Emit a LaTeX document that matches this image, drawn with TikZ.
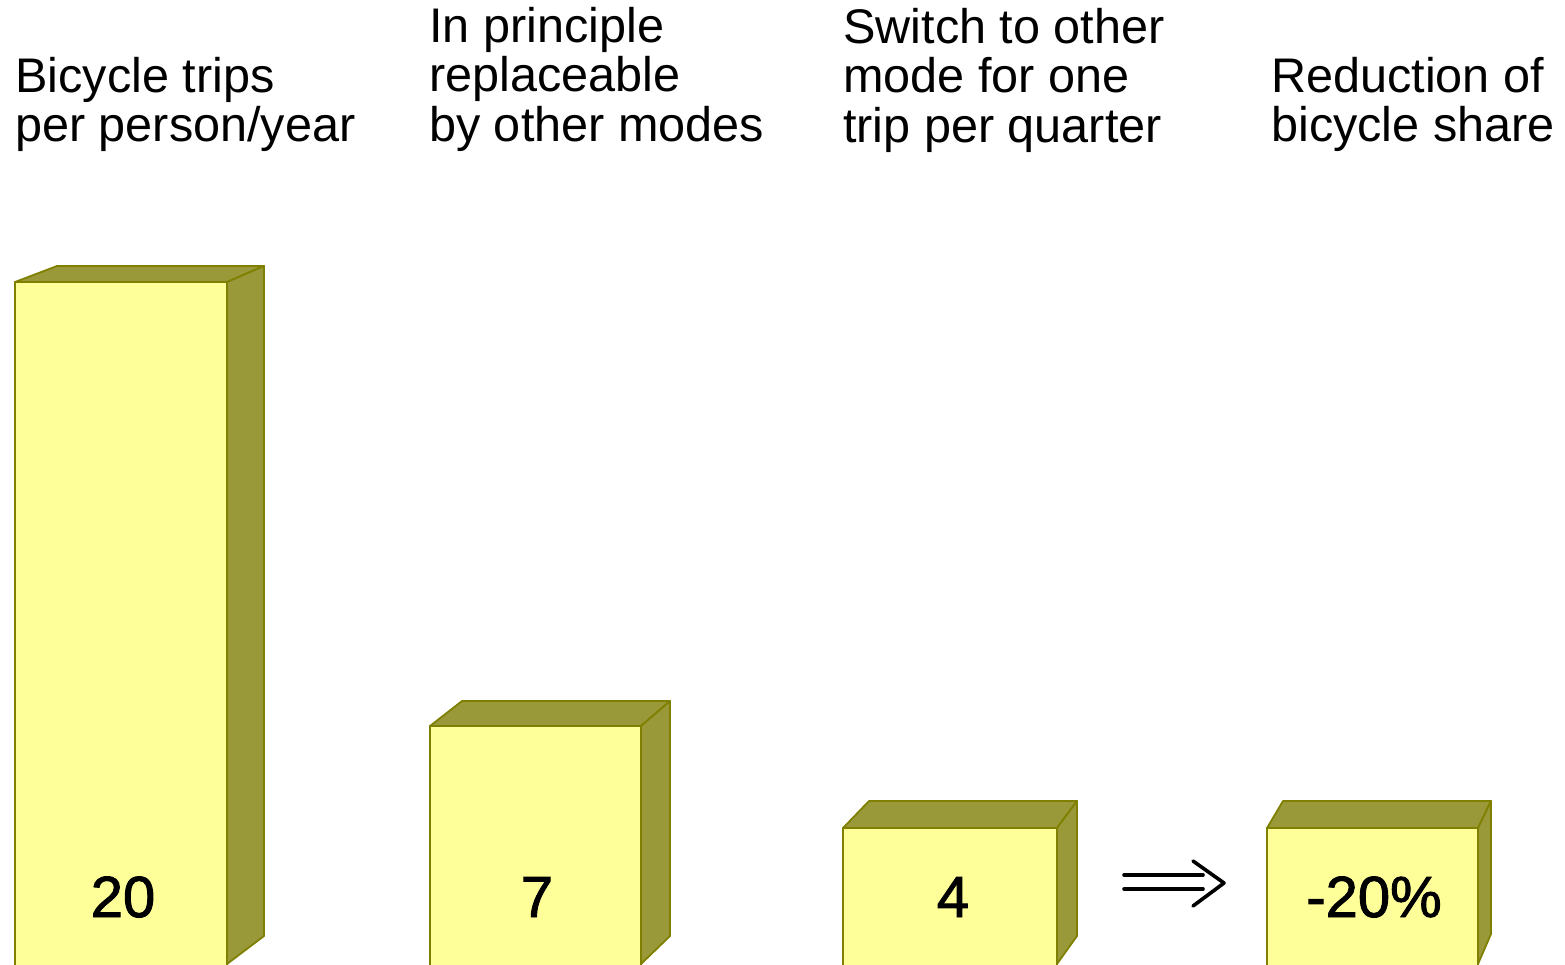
\documentclass[tikz,border=0pt]{standalone}
\usepackage{fontspec}
\setmainfont{Liberation Sans}
\newfontfamily\valuefont[FakeBold=1.6]{Liberation Sans}
\definecolor{barfront}{RGB}{255,255,153}
\definecolor{barside}{RGB}{153,153,58}
\definecolor{baredge}{RGB}{128,128,0}
\tikzset{
  frontface/.style={fill=barfront,draw=baredge,line width=1.8pt,line join=round},
  sideface/.style={fill=barside,draw=baredge,line width=1.8pt,line join=round},
  heading/.style={anchor=base west,inner sep=0pt,font=\fontsize{48.6}{48}\selectfont},
  value/.style={anchor=base,inner sep=0pt,font=\valuefont\fontsize{58}{60}\selectfont},
  arrowline/.style={line width=3.6pt,line cap=round,line join=round}
}
\begin{document}
\begin{tikzpicture}[x=1pt,y=-1pt]
\useasboundingbox (0,0) rectangle (1565,964);
\clip (0,0) rectangle (1565,964);
% headings
\node[heading] (h1) at (15,92) {\begin{tabular}[t]{@{}l@{}}Bicycle trips\\per person/year\end{tabular}};
\node[heading] (h2) at (429,42) {\begin{tabular}[t]{@{}l@{}}In principle\\replaceable\\by other modes\end{tabular}};
\node[heading] (h3) at (843,43) {\begin{tabular}[t]{@{}l@{}}Switch to other\\mode for one\\trip per quarter\end{tabular}};
\node[heading] (h4) at (1271,92) {\begin{tabular}[t]{@{}l@{}}Reduction of\\bicycle share\end{tabular}};
% bar 1
\draw[sideface] (15,282)--(57,266)--(264,266)--(227,282)--cycle;
\draw[sideface] (227,282)--(264,266)--(264,936)--(227,964)--cycle;
\draw[frontface] (15,282) rectangle (227,975);
% bar 2
\draw[sideface] (430,726)--(462,701)--(670,701)--(641,726)--cycle;
\draw[sideface] (641,726)--(670,701)--(670,936)--(641,964)--cycle;
\draw[frontface] (430,726) rectangle (641,975);
% bar 3
\draw[sideface] (843,828)--(869,801)--(1077,801)--(1057,828)--cycle;
\draw[sideface] (1057,828)--(1077,801)--(1077,936)--(1057,964)--cycle;
\draw[frontface] (843,828) rectangle (1057,975);
% bar 4
\draw[sideface] (1267,828)--(1283,801)--(1491,801)--(1478,828)--cycle;
\draw[sideface] (1478,828)--(1491,801)--(1491,934)--(1478,964)--cycle;
\draw[frontface] (1267,828) rectangle (1478,975);
% values
\node[value] (v1) at (123,917) {20};
\node[value] (v2) at (537,917) {7};
\node[value] (v3) at (953,917) {4};
\node[value] (v4) at (1374,917) {-20\%};
% implication arrow
\coordinate (a1) at (1124,875);
\coordinate (a2) at (1203,875);
\coordinate (b1) at (1124,889);
\coordinate (b2) at (1203,889);
\coordinate (c1) at (1193,861);
\coordinate (tip) at (1224,883);
\coordinate (c2) at (1193,906);
\draw[arrowline] (a1) -- (a2);
\draw[arrowline] (b1) -- (b2);
\draw[arrowline] (c1) -- (tip) -- (c2);
\end{tikzpicture}
\end{document}
